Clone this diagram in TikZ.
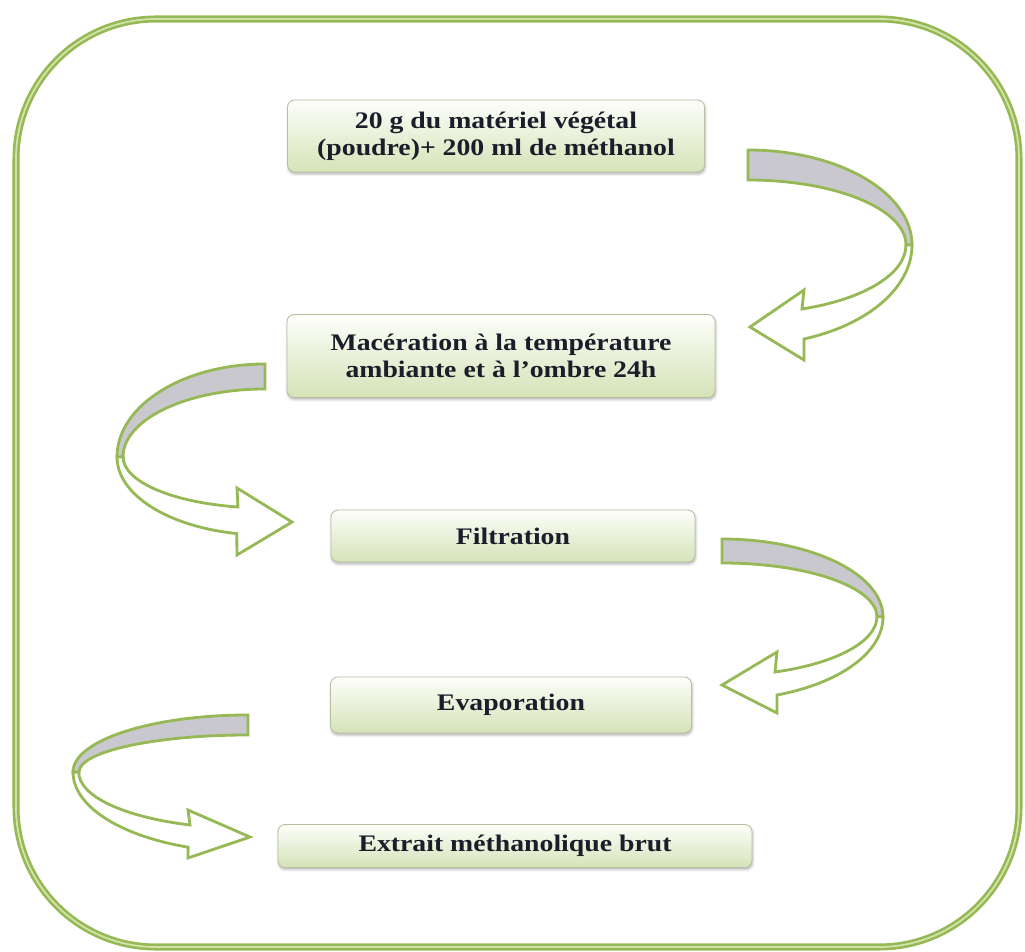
\documentclass[tikz,border=0pt]{standalone}
\usepackage{fontspec}
\newfontfamily\stepfont{Liberation Serif}[FakeStretch=1.17]
\usetikzlibrary{shadows.blur}
\definecolor{leaf}{RGB}{150,185,85}
\definecolor{leaflight}{RGB}{210,228,170}
\definecolor{boxtop}{RGB}{253,254,250}
\definecolor{boxbottom}{RGB}{213,227,184}
\definecolor{boxrim}{RGB}{182,192,160}
\definecolor{bandgray}{RGB}{200,200,206}
\definecolor{ink}{RGB}{28,28,42}
\tikzset{
    line cap=round,
    frame/.style={
        draw=leaf,
        line width=1.5pt,
        double=leaflight,
        double distance=1pt,
        rounded corners=2.8cm
    },
    stepbox/.style={
        rectangle,
        draw=boxrim,
        line width=0.5pt,
        rounded corners=4pt,
        top color=boxtop,
        bottom color=boxbottom,
        text=ink,
        align=center,
        inner sep=2pt,
        font=\stepfont\bfseries\fontsize{13.5}{15.3}\selectfont,
        blur shadow={shadow xshift=0.4pt, shadow yshift=-1.2pt,
            shadow blur radius=1.5pt, shadow opacity=30}
    },
    backband/.style={
        fill=bandgray,
        draw=leaf,
        line width=1.6pt,
        line join=miter
    },
    frontband/.style={
        fill=white,
        draw=leaf,
        line width=1.6pt,
        line join=miter
    }
}

\begin{document}
\begin{tikzpicture}[x=0.02cm, y=0.02cm]

\useasboundingbox (0,0) rectangle (1025,-952);

% Outer frame
\draw[frame] (16,-19) rectangle (1019,-947);

% Steps
\node[stepbox, minimum width=8.34cm, minimum height=1.44cm] (raw) at (496,-136)
    {20 g du matériel végétal\\(poudre)+ 200 ml de méthanol};
\node[stepbox, minimum width=8.56cm, minimum height=1.66cm] (macer) at (501,-356)
    {Macération à la température\\ambiante et à l’ombre 24h};
\node[stepbox, minimum width=7.28cm, minimum height=1.04cm] (filtr) at (513,-536) {Filtration};
\node[stepbox, minimum width=7.22cm, minimum height=1.12cm] (evap) at (511,-705) {Evaporation};
\node[stepbox, minimum width=9.48cm, minimum height=0.86cm] (extr) at (515,-846) {Extrait méthanolique brut};

% Curved arrow: raw -> macer (right side)
\filldraw[backband] (748,-150) arc[start angle=90, end angle=0, x radius=164, y radius=95]
    -- (906,-245) arc[start angle=0, end angle=90, x radius=158, y radius=65] -- cycle;
\filldraw[frontband] (912,-245) arc[start angle=0, end angle=-70, x radius=164, y radius=100]
    -- (804,-360) -- (750,-327) -- (804,-290) -- (802,-309)
    arc[start angle=-70, end angle=0, x radius=158, y radius=68] -- cycle;

% Curved arrow: macer -> filtr (left side)
\filldraw[backband] (265,-364) arc[start angle=90, end angle=180, x radius=148, y radius=93]
    -- (123,-457) arc[start angle=180, end angle=90, x radius=142, y radius=68] -- cycle;
\filldraw[frontband] (117,-457) arc[start angle=180, end angle=259, x radius=148, y radius=78]
    -- (237,-555) -- (292,-522) -- (237,-488) -- (238,-507)
    arc[start angle=259, end angle=180, x radius=142, y radius=51] -- cycle;

% Curved arrow: filtr -> evap (right side)
\filldraw[backband] (722,-539) arc[start angle=90, end angle=0, x radius=161, y radius=78]
    -- (877,-617) arc[start angle=0, end angle=90, x radius=155, y radius=54] -- cycle;
\filldraw[frontband] (883,-617) arc[start angle=0, end angle=-70, x radius=161, y radius=83]
    -- (777,-713) -- (722,-685) -- (777,-652) -- (775,-672)
    arc[start angle=-70, end angle=0, x radius=155, y radius=59] -- cycle;

% Curved arrow: evap -> extr (left side)
\filldraw[backband] (248,-715) arc[start angle=90, end angle=180, x radius=175, y radius=57]
    -- (79,-772) arc[start angle=180, end angle=90, x radius=169, y radius=37] -- cycle;
\filldraw[frontband] (73,-772) arc[start angle=180, end angle=250, x radius=175, y radius=80]
    -- (188,-858) -- (250,-837) -- (188,-810) -- (190,-825)
    arc[start angle=250, end angle=180, x radius=169, y radius=56] -- cycle;

\end{tikzpicture}
\end{document}
